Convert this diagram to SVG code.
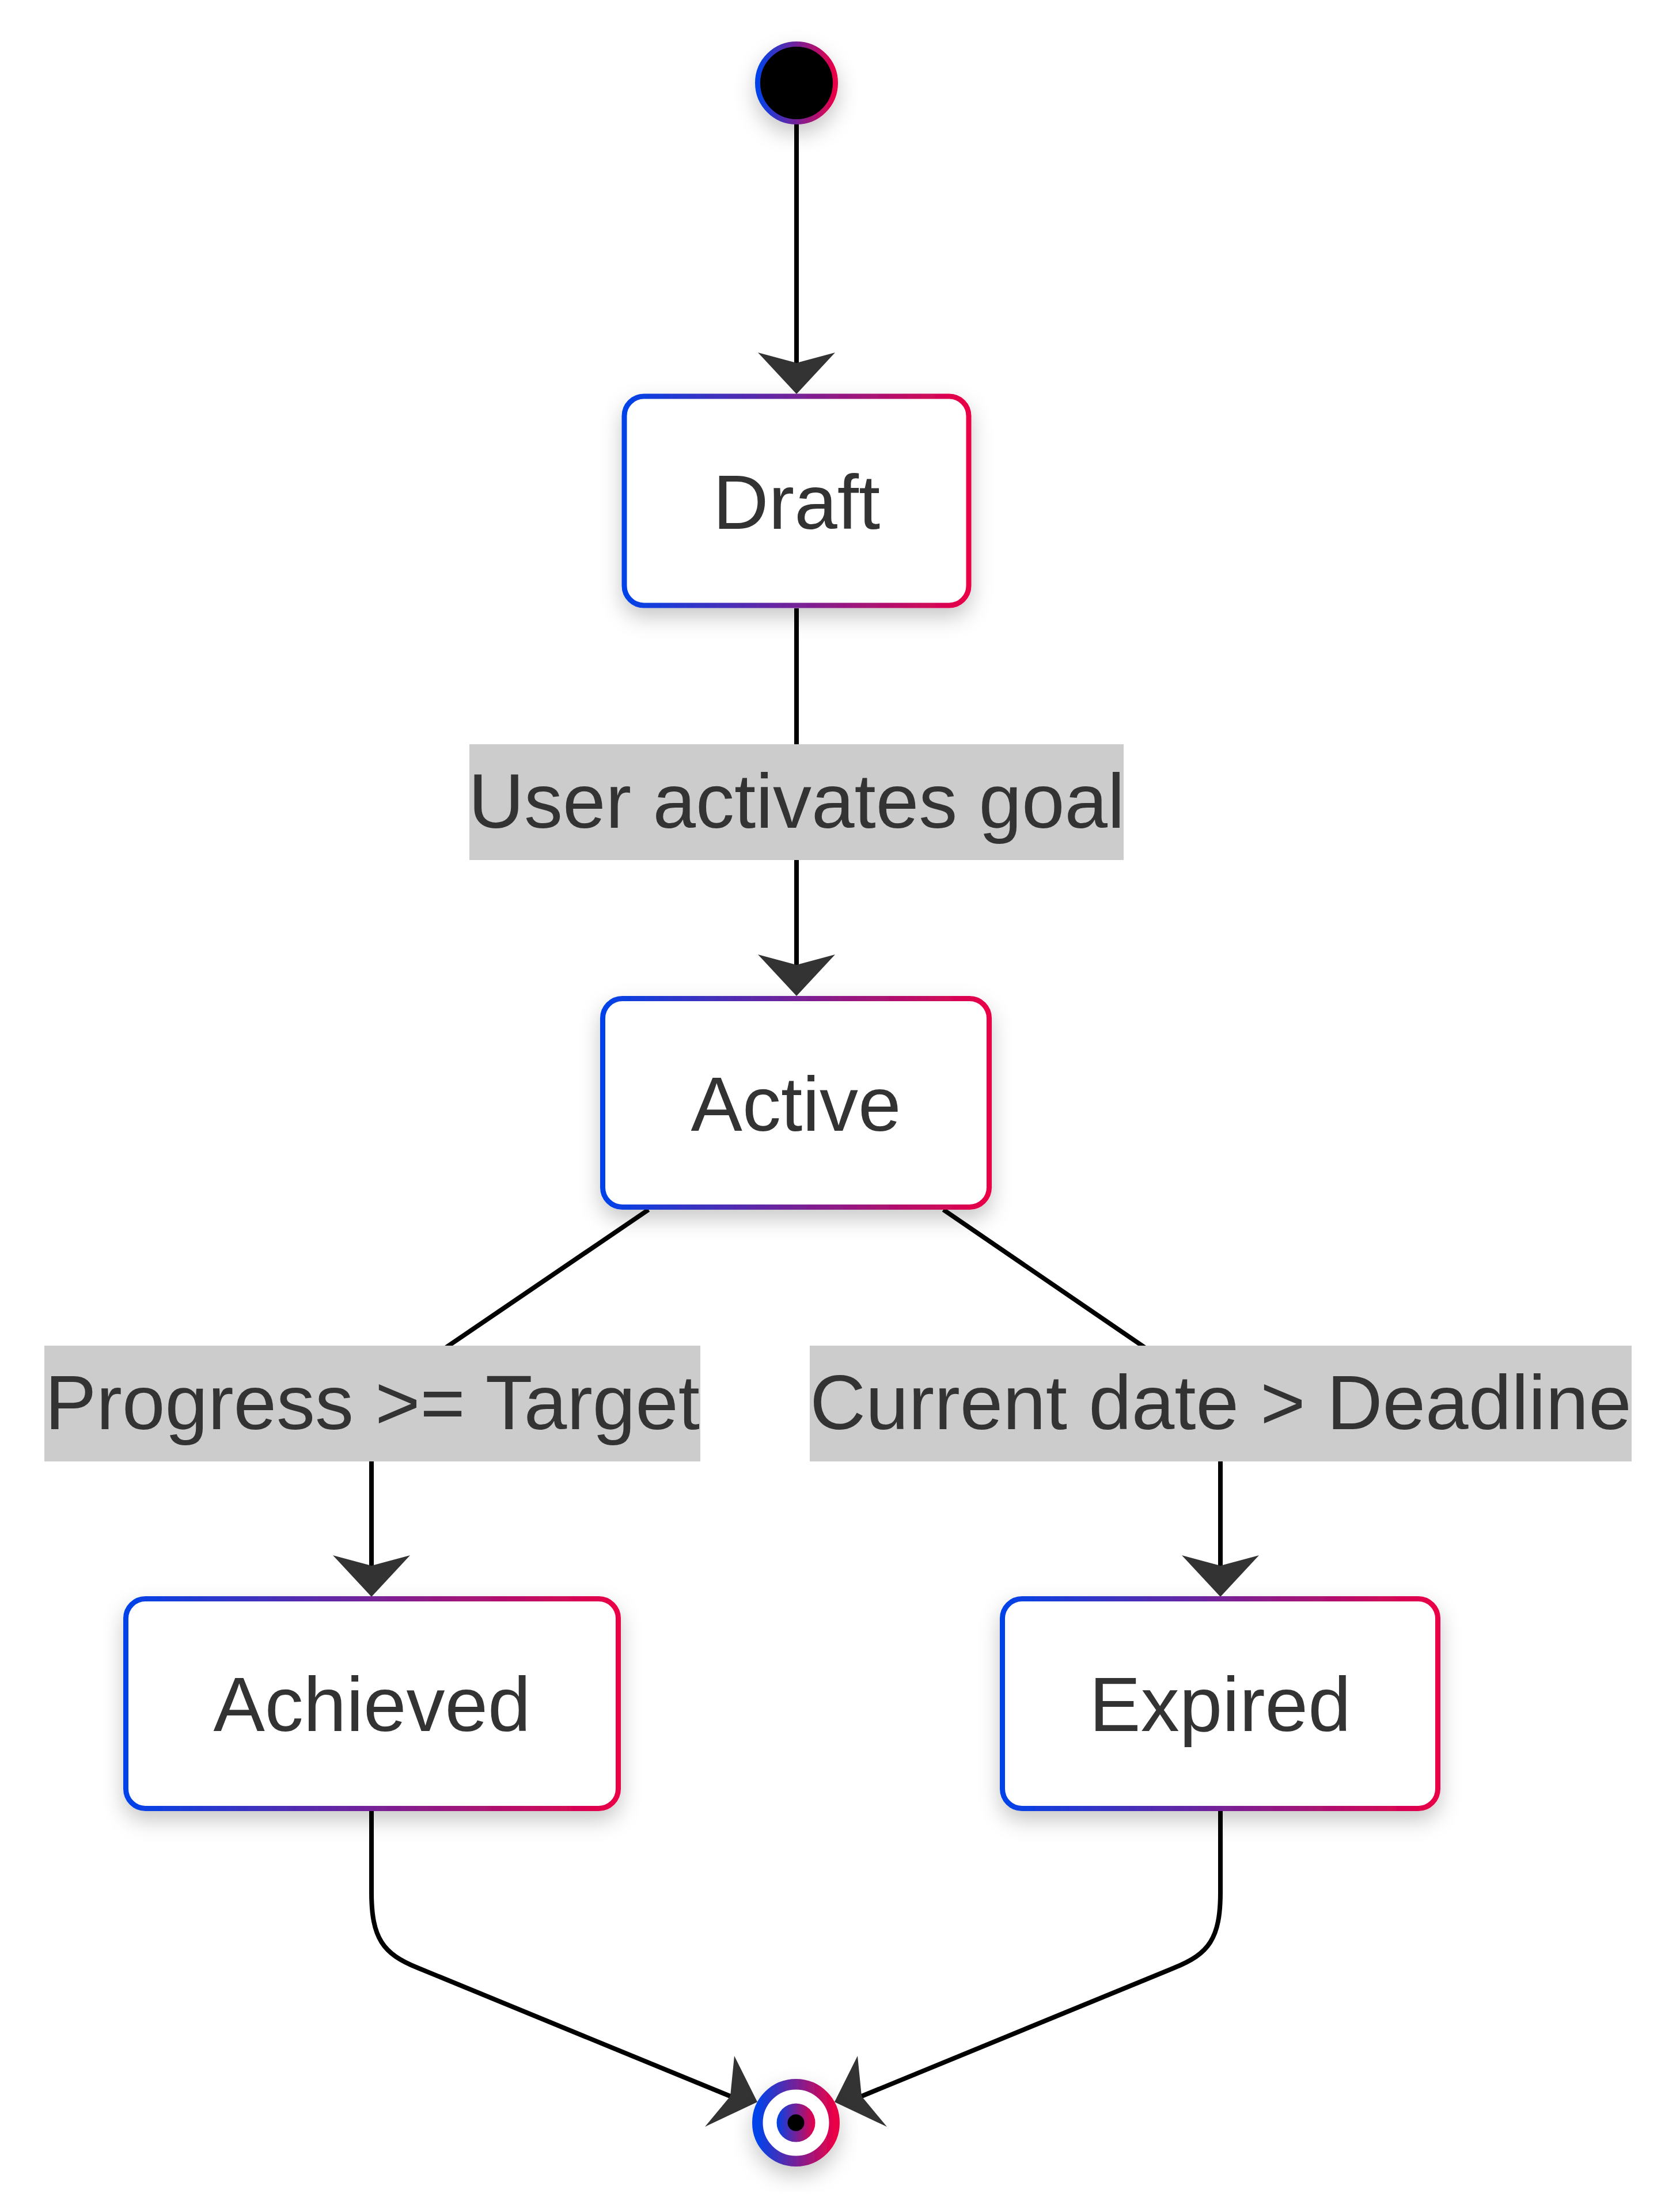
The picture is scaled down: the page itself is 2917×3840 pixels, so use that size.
<svg xmlns="http://www.w3.org/2000/svg" width="2917" height="3840" viewBox="0 0 2917 3840">
<defs>
<linearGradient id="grad" x1="0" y1="0" x2="1" y2="0">
<stop offset="0" stop-color="#0043e9"/>
<stop offset="1" stop-color="#ea0046"/>
</linearGradient>
<filter id="shadow" x="-30%" y="-30%" width="160%" height="170%">
<feDropShadow dx="0" dy="16" stdDeviation="18" flood-color="#000" flood-opacity="0.22"/>
</filter>
<style>
.state{fill:#ffffff;stroke:url(#grad);stroke-width:9;filter:url(#shadow)}
.label-bg{fill:#cccccc}
.txt{font-family:"Liberation Sans",Arial,sans-serif;font-size:134px;fill:#333333;text-anchor:middle}
.edge{fill:none;stroke:#000000;stroke-width:8}
.head{fill:#333333;stroke:none}
</style>
</defs>
<rect x="0" y="0" width="2917" height="3840" fill="#ffffff"/>

<g id="connectors">
<path class="edge" d="M1383,214 L1383,632"/>
<polygon class="head" points="1383,684 1316,612 1383,630 1450,612"/>
<path class="edge" d="M1383,1056 L1383,1677"/>
<polygon class="head" points="1383,1729 1316,1657 1383,1675 1450,1657"/>
<path class="edge" d="M1126,2100 L779,2336 Q645,2430 645,2537 L645,2720"/>
<polygon class="head" points="645,2772 578,2700 645,2718 712,2700"/>
<path class="edge" d="M1638,2100 L1983,2336 Q2119,2430 2119,2537 L2119,2720"/>
<polygon class="head" points="2119,2772 2052,2700 2119,2718 2186,2700"/>
<path class="edge" d="M645,3144 L645,3285 C645,3365 665,3392 725,3416 L1268,3639"/>
<polygon class="head" points="1315,3649 1275,3569 1268,3639 1224,3692"/>
<path class="edge" d="M2119,3144 L2119,3285 C2119,3365 2099,3392 2039,3416 L1496,3639"/>
<polygon class="head" points="1449,3649 1489,3569 1496,3639 1540,3692"/>
</g>

<g id="start">
<circle cx="1383" cy="144" r="67.5" fill="#000000" stroke="url(#grad)" stroke-width="9" filter="url(#shadow)"/>
</g>

<g id="Draft">
<rect class="state" x="1084" y="688" width="598" height="363" rx="34" ry="34"/>
<text class="txt" x="1383" y="918">Draft</text>
</g>

<g id="Active">
<rect class="state" x="1046.5" y="1733.5" width="671" height="362" rx="34" ry="34"/>
<text class="txt" x="1382" y="1963">Active</text>
</g>

<g id="Achieved">
<rect class="state" x="218.5" y="2775.5" width="855" height="364" rx="34" ry="34"/>
<text class="txt" x="646" y="3005">Achieved</text>
</g>

<g id="Expired">
<rect class="state" x="1740.5" y="2775.5" width="756" height="364" rx="34" ry="34"/>
<text class="txt" x="2118.5" y="3005">Expired</text>
</g>

<g id="end">
<circle cx="1382" cy="3685" r="66.75" fill="#ffffff" stroke="url(#grad)" stroke-width="18.5" filter="url(#shadow)"/>
<circle cx="1382" cy="3685" r="33.5" fill="url(#grad)"/>
<circle cx="1382" cy="3685" r="14.5" fill="#000000"/>
</g>

<g id="label-activate">
<rect class="label-bg" x="815" y="1292" width="1136" height="201"/>
<text class="txt" x="1383" y="1437">User activates goal</text>
</g>

<g id="label-progress">
<rect class="label-bg" x="77" y="2336" width="1139" height="201"/>
<text class="txt" x="646.5" y="2481">Progress &gt;= Target</text>
</g>

<g id="label-deadline">
<rect class="label-bg" x="1406" y="2336" width="1427" height="201"/>
<text class="txt" x="2119.5" y="2481">Current date &gt; Deadline</text>
</g>
</svg>
